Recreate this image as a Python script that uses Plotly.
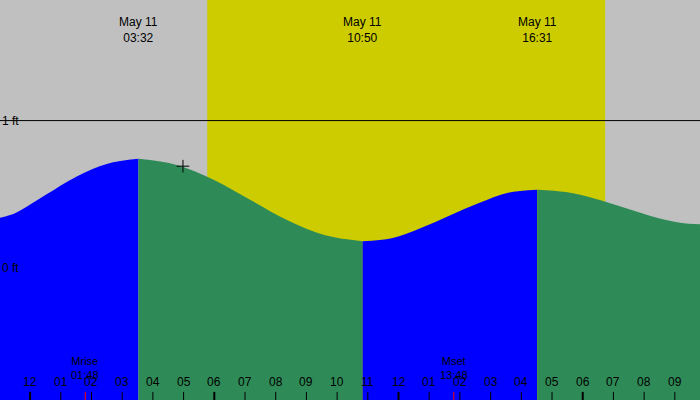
import plotly.graph_objects as go

# hours from midnight May 11, heights in ft
seg_rise1_t = [-0.98, -0.49, 0.51, 1.52, 2.52, 3.53]
seg_rise1_h = [0.34, 0.37, 0.495, 0.62, 0.707, 0.74]
seg_fall1_t = [3.53, 4.75, 5.96, 7.18, 8.40, 9.61, 10.83]
seg_fall1_h = [0.74, 0.70, 0.60, 0.46, 0.32, 0.22, 0.18]
seg_rise2_t = [10.83, 11.78, 12.73, 13.67, 14.62, 15.57, 16.52]
seg_rise2_h = [0.18, 0.20, 0.27, 0.355, 0.44, 0.51, 0.53]
seg_fall2_t = [16.52, 17.45, 18.38, 19.31, 20.24, 21.17, 21.82]
seg_fall2_h = [0.53, 0.514, 0.47, 0.41, 0.35, 0.306, 0.295]

extreme_t = [3.53, 10.83, 16.52, 22.1]
extreme_lbl = ["May 11<br>03:32", "May 11<br>10:50", "May 11<br>16:31", "May 11<br>22:06"]
sunrise, sunset = 5.77, 18.73
moon_t = [1.8, 13.8]
moon_lbl = ["Mrise<br>01:48", "Mset<br>13:48"]
hour_ticks = list(range(-1, 22))
hour_lbl = ["11", "12", "01", "02", "03", "04", "05", "06", "07", "08", "09", "10", "11",
            "12", "01", "02", "03", "04", "05", "06", "07", "08", "09"]

X0, X1 = -0.98, 21.82
Y0, Y1 = -0.9, 1.82
BLUE, GREEN = "#0000ff", "#2e8b57"

fig = go.Figure()
segs = [(seg_rise1_t, seg_rise1_h, BLUE), (seg_fall1_t, seg_fall1_h, GREEN),
        (seg_rise2_t, seg_rise2_h, BLUE), (seg_fall2_t, seg_fall2_h, GREEN)]
for t, h, c in segs:
    fig.add_trace(go.Scatter(x=[t[0], t[-1]], y=[Y0, Y0], mode="lines",
                             line=dict(width=0, color=c), hoverinfo="skip"))
    fig.add_trace(go.Scatter(x=t, y=h, mode="lines", line=dict(width=0, color=c, shape="spline"),
                             fill="tonexty", fillcolor=c, hoverinfo="skip"))

fig.add_trace(go.Scatter(x=[4.98], y=[0.69], mode="markers",
                         marker=dict(symbol="cross-thin", size=9, line=dict(width=1, color="black"))))

fig.add_shape(type="rect", x0=sunrise, x1=sunset, y0=Y0, y1=Y1, fillcolor="#cccc00",
              line_width=0, layer="below")
fig.add_shape(type="line", x0=X0, x1=X1, y0=1, y1=1, line=dict(color="black", width=1))

font = dict(family="Liberation Sans", size=12, color="black")
for t, l in zip(extreme_t, extreme_lbl):
    fig.add_annotation(x=t, y=1.735, text=l, showarrow=False, font=font, yanchor="top")
fig.add_annotation(x=(X0 + X1) / 2 - 0.65, y=1.83, text="Haulover Bay, St. John, Virgin Islands",
                   showarrow=False, font=font, yanchor="top")
for v, l in [(1, "1 ft"), (0, "0 ft")]:
    fig.add_annotation(x=X0, y=v, text=l, showarrow=False, font=font, xanchor="left")
for t, l in zip(moon_t, moon_lbl):
    fig.add_annotation(x=t, y=-0.58, text=l, showarrow=False, yanchor="top",
                       font=dict(family="Liberation Sans", size=11, color="black"))
    fig.add_shape(type="line", x0=t, x1=t, y0=Y0, y1=Y0 + 0.055, line=dict(color="red", width=1))
for t, l in zip(hour_ticks, hour_lbl):
    fig.add_annotation(x=t, y=-0.775, text=l, showarrow=False, font=font)
    w = 2 if t % 6 == 0 else 1
    fig.add_shape(type="line", x0=t, x1=t, y0=Y0, y1=Y0 + 0.055, line=dict(color="black", width=w))

fig.update_layout(width=700, height=400, margin=dict(l=0, r=0, t=0, b=0),
                  plot_bgcolor="#c0c0c0", paper_bgcolor="#c0c0c0", showlegend=False,
                  xaxis=dict(range=[X0, X1], visible=False, fixedrange=True),
                  yaxis=dict(range=[Y0, Y1], visible=False, fixedrange=True))
fig.write_html("out.html", config={"displayModeBar": False},
               post_script="document.body.style.margin='0';")
